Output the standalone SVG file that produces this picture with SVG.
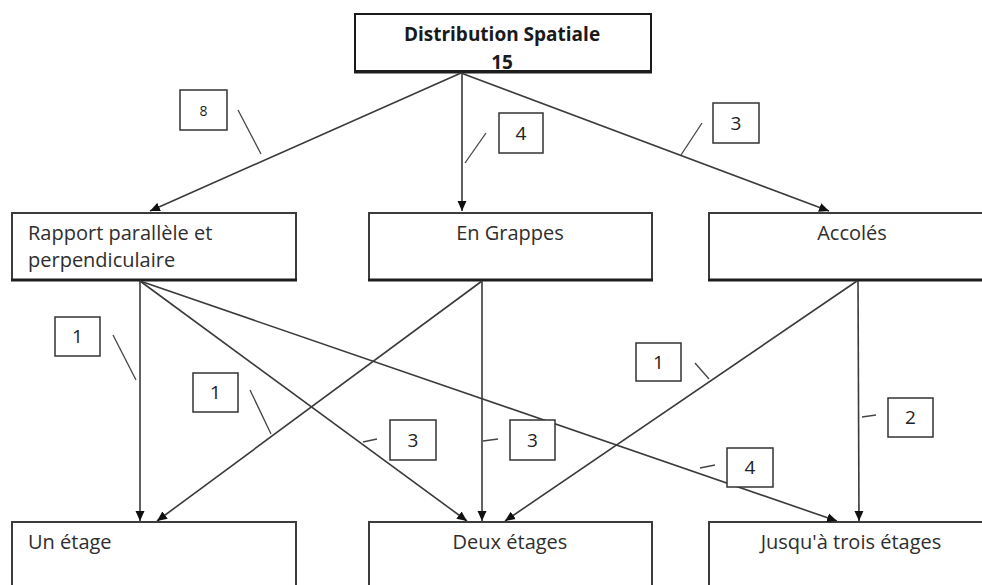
<svg xmlns="http://www.w3.org/2000/svg" width="982" height="585" viewBox="0 0 982 585">
  <style>
    .box { fill: #ffffff; stroke: #3c3c3c; stroke-width: 2; }
    .shadow { stroke: #1e1e1e; stroke-width: 3; }
    .txt { font-family: "Open Sans", "Liberation Sans", sans-serif; font-size: 20px; fill: #2e2e2e; }
    .title { font-family: "Open Sans", "Liberation Sans", sans-serif; font-size: 19px; font-weight: bold; fill: #1a1a1a; }
    .conn { stroke: #3a3a3a; stroke-width: 1.6; fill: none; marker-end: url(#head); }
    .lead { stroke: #444444; stroke-width: 1.3; fill: none; }
    .tag rect { fill: #ffffff; stroke: #333333; stroke-width: 1.5; }
    .tag text { font-family: "Open Sans", "Liberation Sans", sans-serif; font-size: 19px; fill: #222222; text-anchor: middle; }
  </style>
  <defs>
    <marker id="head" markerUnits="userSpaceOnUse" markerWidth="10" markerHeight="10" viewBox="0 0 10 10" refX="10" refY="5" orient="auto">
      <path d="M0,0.5 L10,5 L0,9.5 Z" fill="#111111"/>
    </marker>
  </defs>

  <rect width="982" height="585" fill="#ffffff"/>

  <!-- root node -->
  <g id="distribution">
    <rect x="355" y="14" width="296" height="57" fill="#ffffff" stroke="#1a1a1a" stroke-width="2"/>
    <line x1="354" y1="72" x2="652" y2="72" class="shadow"/>
    <text x="502" y="41" class="title" text-anchor="middle">Distribution Spatiale</text>
    <text x="502" y="69" class="title" text-anchor="middle">15</text>
  </g>

  <!-- second level -->
  <g id="rapport">
    <rect x="12" y="213" width="284" height="67" class="box"/>
    <line x1="11" y1="280" x2="297" y2="280" class="shadow"/>
    <text x="28" y="240" class="txt">Rapport parallèle et</text>
    <text x="28" y="267" class="txt">perpendiculaire</text>
  </g>
  <g id="grappes">
    <rect x="369" y="213" width="283" height="67" class="box"/>
    <line x1="368" y1="280" x2="653" y2="280" class="shadow"/>
    <text x="510" y="240" class="txt" text-anchor="middle">En Grappes</text>
  </g>
  <g id="accoles">
    <rect x="709" y="213" width="290" height="67" class="box"/>
    <line x1="708" y1="280" x2="990" y2="280" class="shadow"/>
    <text x="852" y="240" class="txt" text-anchor="middle">Accolés</text>
  </g>

  <!-- third level -->
  <g id="un-etage">
    <rect x="12" y="522" width="284" height="80" class="box"/>
    <text x="28" y="549" class="txt">Un étage</text>
  </g>
  <g id="deux-etages">
    <rect x="369" y="522" width="283" height="80" class="box"/>
    <text x="510" y="549" class="txt" text-anchor="middle">Deux étages</text>
  </g>
  <g id="trois-etages">
    <rect x="709" y="522" width="290" height="80" class="box"/>
    <text x="851" y="549" class="txt" text-anchor="middle">Jusqu'à trois étages</text>
  </g>

  <!-- connectors -->
  <g id="connectors">
    <line x1="461" y1="73" x2="150" y2="211" class="conn"/>
    <line x1="462" y1="73" x2="462" y2="211" class="conn"/>
    <line x1="461" y1="73" x2="829" y2="211" class="conn"/>

    <line x1="140" y1="281" x2="140" y2="521" class="conn"/>
    <line x1="140" y1="281" x2="467" y2="521" class="conn"/>
    <line x1="140" y1="281" x2="837" y2="521" class="conn"/>

    <line x1="482" y1="281" x2="157" y2="521" class="conn"/>
    <line x1="482" y1="281" x2="482" y2="521" class="conn"/>

    <line x1="857" y1="281" x2="505" y2="521" class="conn"/>
    <line x1="858" y1="281" x2="859" y2="521" class="conn"/>
  </g>

  <!-- count labels with leader lines -->
  <g id="labels">
    <g class="tag"><line x1="238" y1="110" x2="261" y2="154" class="lead"/><rect x="180" y="90" width="47" height="40"/><text x="203.5" y="116" style="font-size:14px">8</text></g>
    <g class="tag"><line x1="486" y1="133" x2="465" y2="163" class="lead"/><rect x="499" y="113" width="44" height="40"/><text x="521" y="140">4</text></g>
    <g class="tag"><line x1="702" y1="123" x2="681" y2="155" class="lead"/><rect x="713" y="103" width="46" height="40"/><text x="736" y="130">3</text></g>

    <g class="tag"><line x1="113" y1="335" x2="136" y2="380" class="lead"/><rect x="55" y="317" width="45" height="39"/><text x="77.5" y="343">1</text></g>
    <g class="tag"><line x1="250" y1="390" x2="271" y2="434" class="lead"/><rect x="193" y="373" width="45" height="39"/><text x="215.5" y="399">1</text></g>
    <g class="tag"><line x1="377" y1="439" x2="363" y2="442" class="lead"/><rect x="390" y="420" width="46" height="40"/><text x="413" y="447">3</text></g>
    <g class="tag"><line x1="498" y1="439" x2="483" y2="441" class="lead"/><rect x="510" y="420" width="45" height="40"/><text x="532.5" y="447">3</text></g>
    <g class="tag"><line x1="695" y1="363" x2="709" y2="379" class="lead"/><rect x="636" y="343" width="45" height="38"/><text x="658.5" y="369">1</text></g>
    <g class="tag"><line x1="876" y1="415" x2="862" y2="417" class="lead"/><rect x="888" y="398" width="45" height="39"/><text x="910.5" y="424">2</text></g>
    <g class="tag"><line x1="715" y1="465" x2="700" y2="468" class="lead"/><rect x="727" y="448" width="46" height="39"/><text x="750" y="474">4</text></g>
  </g>
</svg>
